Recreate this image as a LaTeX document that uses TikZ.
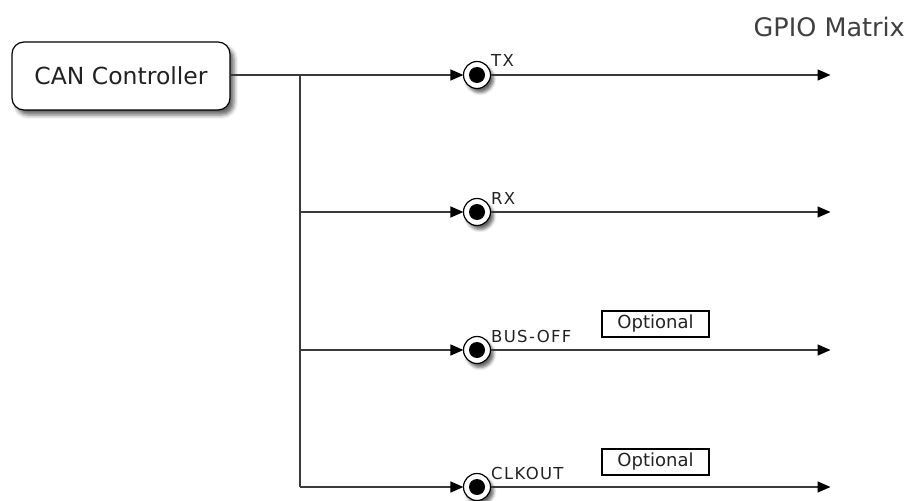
\documentclass[tikz,border=0pt]{standalone}
\usepackage{fontspec}
\setmainfont{DejaVu Sans}
\newfontfamily\spacedfont[LetterSpace=8]{DejaVu Sans}
\usetikzlibrary{arrows.meta,shadows.blur}
\definecolor{linec}{HTML}{3A3A3A}
\definecolor{textc}{HTML}{222222}
\tikzset{
  wire/.style={draw=linec, line width=1.4pt},
  arr/.style={wire, -{Triangle[length=13pt,width=11pt,color=black,fill=black]}, shorten >=-0.5pt},
  ctrlbox/.style={draw=black, line width=1.2pt, rounded corners=12pt, fill=white,
    minimum width=218pt, minimum height=68pt, inner sep=0pt, text=textc,
    font=\fontsize{23.5}{28}\selectfont,
    blur shadow={shadow xshift=4pt, shadow yshift=-5pt, shadow blur radius=4pt, shadow opacity=60}},
  port/.style={circle, draw=black, line width=1.2pt, fill=white, minimum size=27pt, inner sep=0pt,
    blur shadow={shadow xshift=3pt, shadow yshift=-4pt, shadow blur radius=3pt, shadow opacity=60},
    path picture={\fill[black] (path picture bounding box.center) circle (8pt);}},
  plabel/.style={anchor=base west, inner sep=0pt, text=textc, font=\spacedfont\fontsize{16.5}{20}\selectfont},
  optbox/.style={draw=black, line width=1.1pt, minimum width=107pt, minimum height=26pt, inner sep=0pt,
    text=textc, font=\fontsize{18}{22}\selectfont},
}
\begin{document}
\begin{tikzpicture}[x=1pt,y=-1pt]
\useasboundingbox (0,0) rectangle (909,500);
% controller
\node[ctrlbox] (ctrl) at (121,76) {CAN Controller};
% junctions
\coordinate (j1) at (300,75);
\coordinate (j2) at (300,212);
\coordinate (j3) at (300,350);
\coordinate (j4) at (300,487);
% ports
\node[port] (tx) at (477,75) {};
\node[port] (rx) at (477,212) {};
\node[port] (bo) at (477,350) {};
\node[port] (ck) at (477,487) {};
% ends
\coordinate (e1) at (830,75);
\coordinate (e2) at (830,212);
\coordinate (e3) at (830,350);
\coordinate (e4) at (830,487);
% wires
\draw[wire] (ctrl.east |- j1) -- (j1);
\draw[wire] (j1) -- (j4);
\draw[arr] (j1) -- (tx);
\draw[arr] (j2) -- (rx);
\draw[arr] (j3) -- (bo);
\draw[arr] (j4) -- (ck);
\draw[arr] (tx) -- (e1);
\draw[arr] (rx) -- (e2);
\draw[arr] (bo) -- (e3);
\draw[arr] (ck) -- (e4);
% labels
\node[plabel] (ltx) at (491,67) {TX};
\node[plabel] (lrx) at (491,204) {RX};
\node[plabel] (lbo) at (491,342) {BUS-OFF};
\node[plabel] (lck) at (491,479) {CLKOUT};
\node[optbox] (o1) at (655.5,324) {Optional};
\node[optbox] (o2) at (655.5,462) {Optional};
\node[anchor=base east, inner sep=0pt, text=black!75, font=\fontsize{25.5}{30}\selectfont] (gpio) at (905,37) {GPIO Matrix};
\end{tikzpicture}
\end{document}
